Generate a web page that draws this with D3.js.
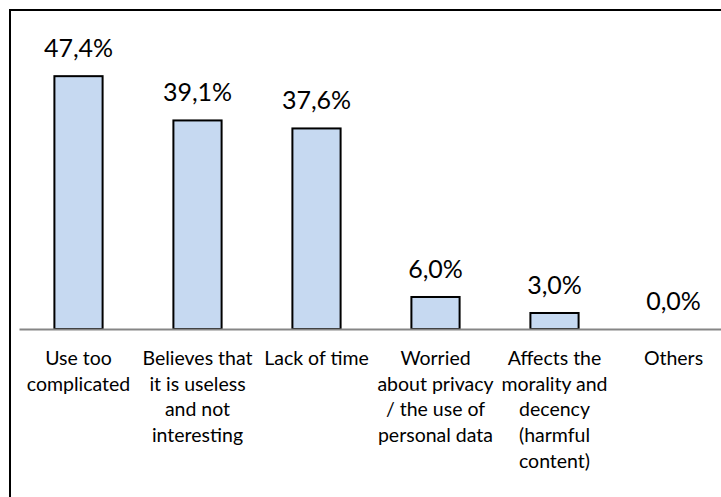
<!DOCTYPE html>
<html>
<head>
<meta charset="utf-8">
<script src="https://cdn.jsdelivr.net/npm/d3@7"></script>
<style>
  html, body { margin: 0; padding: 0; background: #fff; }
  svg { display: block; }
  text { font-family: "Lato", "Open Sans", sans-serif; fill: #000; }
</style>
</head>
<body>
<svg id="chart" width="721" height="497"></svg>
<script>
const categories = [
  ["Use too", "complicated"],
  ["Believes that", "it is useless", "and not", "interesting"],
  ["Lack of time"],
  ["Worried", "about privacy", "/ the use of", "personal data"],
  ["Affects the", "morality and", "decency", "(harmful", "content)"],
  ["Others"]
];
const values = [47.4, 39.1, 37.6, 6.0, 3.0, 0.0];
const valueLabels = ["47,4%", "39,1%", "37,6%", "6,0%", "3,0%", "0,0%"];

const svg = d3.select("#chart");

// outer frame
svg.append("rect")
  .attr("x", 10).attr("y", 10)
  .attr("width", 730).attr("height", 500)
  .attr("fill", "none").attr("stroke", "#000").attr("stroke-width", 2);

const x = d3.scaleBand()
  .domain(d3.range(values.length))
  .range([19, 733])
  .paddingInner(0.595)
  .paddingOuter(0.2975);

const y = d3.scaleLinear().domain([0, 50]).range([329, 62.3]);

// bars
svg.selectAll("rect.bar")
  .data(values)
  .join("rect")
  .attr("class", "bar")
  .attr("x", (d, i) => x(i))
  .attr("y", d => y(d))
  .attr("width", x.bandwidth())
  .attr("height", d => y(0) - y(d))
  .attr("fill", "#c6d9f1")
  .attr("stroke", d => d > 0 ? "#000" : "none")
  .attr("stroke-width", 2);

// axis line
const xAxis = d3.axisBottom(x).tickSize(0).tickFormat("");
const axisG = svg.append("g").attr("transform", `translate(0,${y(0)})`).call(xAxis);
axisG.select(".domain").attr("stroke", "#868686").attr("stroke-width", 2);

// value labels
svg.selectAll("text.val")
  .data(values)
  .join("text")
  .attr("class", "val")
  .attr("x", (d, i) => x(i) + x.bandwidth() / 2)
  .attr("y", d => y(d) - 19)
  .attr("text-anchor", "middle")
  .attr("font-size", 25)
  .text((d, i) => valueLabels[i]);

// category labels
const cat = svg.selectAll("text.cat")
  .data(categories)
  .join("text")
  .attr("class", "cat")
  .attr("text-anchor", "middle")
  .attr("font-size", 19.5)
  .attr("x", (d, i) => x(i) + x.bandwidth() / 2)
  .attr("y", 365);
cat.selectAll("tspan")
  .data((d, i) => d.map(s => ({s, i})))
  .join("tspan")
  .attr("x", d => x(d.i) + x.bandwidth() / 2)
  .attr("y", (d, j) => 365 + j * 25.7)
  .text(d => d.s);
</script>
</body>
</html>
